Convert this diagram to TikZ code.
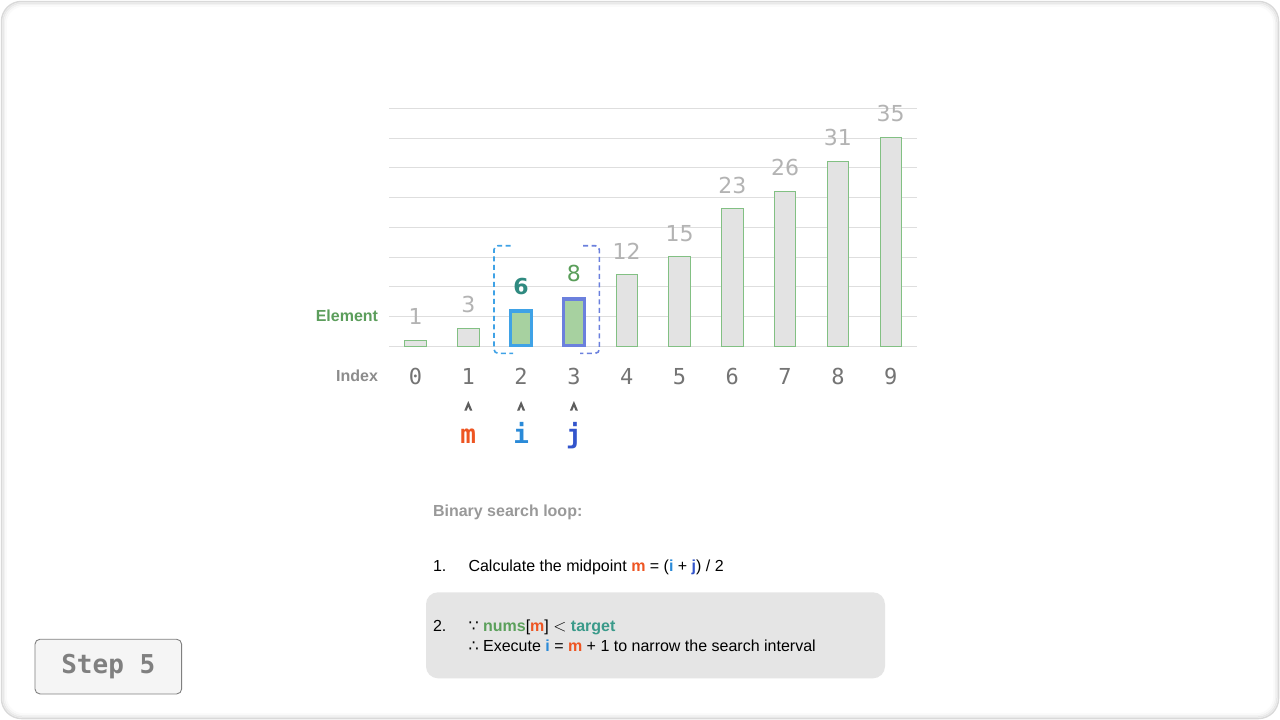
\documentclass[tikz,border=0pt]{standalone}
\usepackage{fontspec}
\setmainfont{Liberation Sans}
\newfontfamily\monofont{DejaVu Sans Mono}
\newfontfamily\numfont{DejaVu Sans}
\newfontfamily\symfont{DejaVu Sans}
\usetikzlibrary{positioning}
\definecolor{gridgray}{HTML}{DEDEDE}
\definecolor{barfill}{HTML}{E3E3E3}
\definecolor{bargreen}{HTML}{82C083}
\definecolor{curfill}{HTML}{A7D1A0}
\definecolor{valgray}{HTML}{B3B3B3}
\definecolor{idxgray}{HTML}{747474}
\definecolor{lblgray}{HTML}{8C8C8C}
\definecolor{elemgreen}{HTML}{5C9E5C}
\definecolor{sixteal}{HTML}{2F8A80}
\definecolor{eightgreen}{HTML}{5A9E5A}
\definecolor{mcol}{HTML}{EE5522}
\definecolor{icol}{HTML}{2A8AD8}
\definecolor{jcol}{HTML}{3355CC}
\definecolor{ibox}{HTML}{3FA2E6}
\definecolor{jbox}{HTML}{6B80DD}
\definecolor{caretgray}{HTML}{5E5E5E}
\definecolor{titlegray}{HTML}{999999}
\definecolor{numsgreen}{HTML}{5BA05B}
\definecolor{targetteal}{HTML}{3A9A8A}
\definecolor{notefill}{HTML}{E5E5E5}
\definecolor{stepfill}{HTML}{F5F5F5}
\definecolor{stepgray}{HTML}{808080}

\begin{document}
\begin{tikzpicture}[x=1pt, y=-1pt,
  every node/.style={inner sep=0pt, outer sep=0pt, font=\fontsize{16}{19}\selectfont},
  gridline/.style={draw=gridgray, line width=1},
  plainbar/.style={draw=bargreen, fill=barfill, line width=1},
  curbar/.style={fill=curfill, line width=3.6},
  vallabel/.style={font=\numfont\fontsize{22}{26}\selectfont, text=valgray},
  idxlabel/.style={font=\monofont\fontsize{22}{26}\selectfont, text=idxgray},
  rowlabel/.style={font=\bfseries\fontsize{16}{19}\selectfont},
  ptrlabel/.style={font=\monofont\bfseries\fontsize{26}{30}\selectfont},
  bracket/.style={dashed, dash pattern=on 5pt off 3.5pt, line width=1.6, rounded corners=4},
  stepbox/.style={draw=stepgray, fill=stepfill, line width=0.9, rounded corners=5,
    minimum width=146.7, minimum height=54.7,
    font=\monofont\bfseries\fontsize{26}{30}\selectfont, text=stepgray}]
  \useasboundingbox (0,0) rectangle (1280,720);
  % page frame with soft edge
  \fill[white] (0,0) rectangle (1280,720);
  \draw[black!15, line width=1.5, rounded corners=20] (1.5,1.5) rectangle (1278.5,718.5);
  \draw[black!9, line width=1.5, rounded corners=19] (3,3) rectangle (1277,717);
  \draw[black!5, line width=1.5, rounded corners=18] (4.5,4.5) rectangle (1275.5,715.5);
  \draw[black!2, line width=1.5, rounded corners=17] (6,6) rectangle (1274,714);
  % grid lines
  \foreach \n in {0,...,8}{\draw[gridline] (389,{108.3+29.75*\n}) -- (917,{108.3+29.75*\n});}
  % plain bars with their values
  \foreach \k/\v in {0/1,1/3,4/12,5/15,6/23,7/26,8/31,9/35}{
    \pgfmathsetmacro{\bx}{415.5+52.8*\k}
    \pgfmathsetmacro{\bt}{346.3-5.97*\v}
    \draw[plainbar] (\bx-10.7,346.3) rectangle (\bx+10.7,\bt);
    \node[vallabel, anchor=base] (val\k) at (\bx,\bt-15.5) {\v};
  }
  % current interval: bars at i and j
  \draw[curbar, draw=ibox] (510.6,345.5) rectangle (531.6,311.1);
  \draw[curbar, draw=jbox] (563.4,345.5) rectangle (584.4,299.1);
  \node[vallabel, font=\numfont\bfseries\fontsize{22}{26}\selectfont, text=sixteal, anchor=base] (val2) at (521.1,294) {6};
  \node[vallabel, text=eightgreen, anchor=base] (val3) at (573.9,281) {8};
  % dashed interval brackets
  \draw[bracket, ibox] (510.7,245.7) -- (494,245.7) -- (494,353.3) -- (513,353.3);
  \draw[bracket, jbox] (583,245.7) -- (599.3,245.7) -- (599.3,353.3) -- (580,353.3);
  % row labels and indices
  \node[rowlabel, text=elemgreen, anchor=base east] (elemlbl) at (378,321) {Element};
  \node[rowlabel, text=lblgray, anchor=base east] (idxlbl) at (378,381) {Index};
  \foreach \k in {0,...,9}{\node[idxlabel, anchor=base] (idx\k) at ({415.5+52.8*\k},384) {\k};}
  % pointers m, i, j
  \foreach \k/\c/\t in {1/mcol/m,2/icol/i,3/jcol/j}{
    \coordinate (car\t) at ({415.5+52.8*\k},406);
    \fill[caretgray] (car\t) ++(0,-5) -- ++(4,9.5) -- ++(-2.4,0) -- ++(-1.6,-4) -- ++(-1.6,4) -- ++(-2.4,0) -- cycle;
    \node[ptrlabel, text=\c, anchor=base] (ptr\t) at ({415.5+52.8*\k},443) {\t};
  }
  % explanation
  \node[rowlabel, text=titlegray, anchor=base west] (title) at (433,516) {Binary search loop:};
  \node[anchor=base west] (num1) at (433,571.5) {1.};
  \node[anchor=base west] (line1) at (468.5,571.5) {Calculate the midpoint \textcolor{mcol}{\textbf{m}} = (\textcolor{icol}{\textbf{i}} + \textcolor{jcol}{\textbf{j}}) / 2};
  \fill[notefill, rounded corners=12] (426,592.3) rectangle (885,678.3);
  \node[anchor=base west] (num2) at (433,631.5) {2.};
  \node[anchor=base west] (line2) at (468.5,631.5) {{\symfont ∵} \textcolor{numsgreen}{\textbf{nums}}[\textcolor{mcol}{\textbf{m}}] $<$ \textcolor{targetteal}{\textbf{target}}};
  \node[anchor=base west] (line3) at (468.5,651) {{\symfont ∴} Execute \textcolor{icol}{\textbf{i}} = \textcolor{mcol}{\textbf{m}} + 1 to narrow the search interval};
  % step badge
  \node[stepbox] (step) at (108.3,666.6) {Step 5};
\end{tikzpicture}
\end{document}
